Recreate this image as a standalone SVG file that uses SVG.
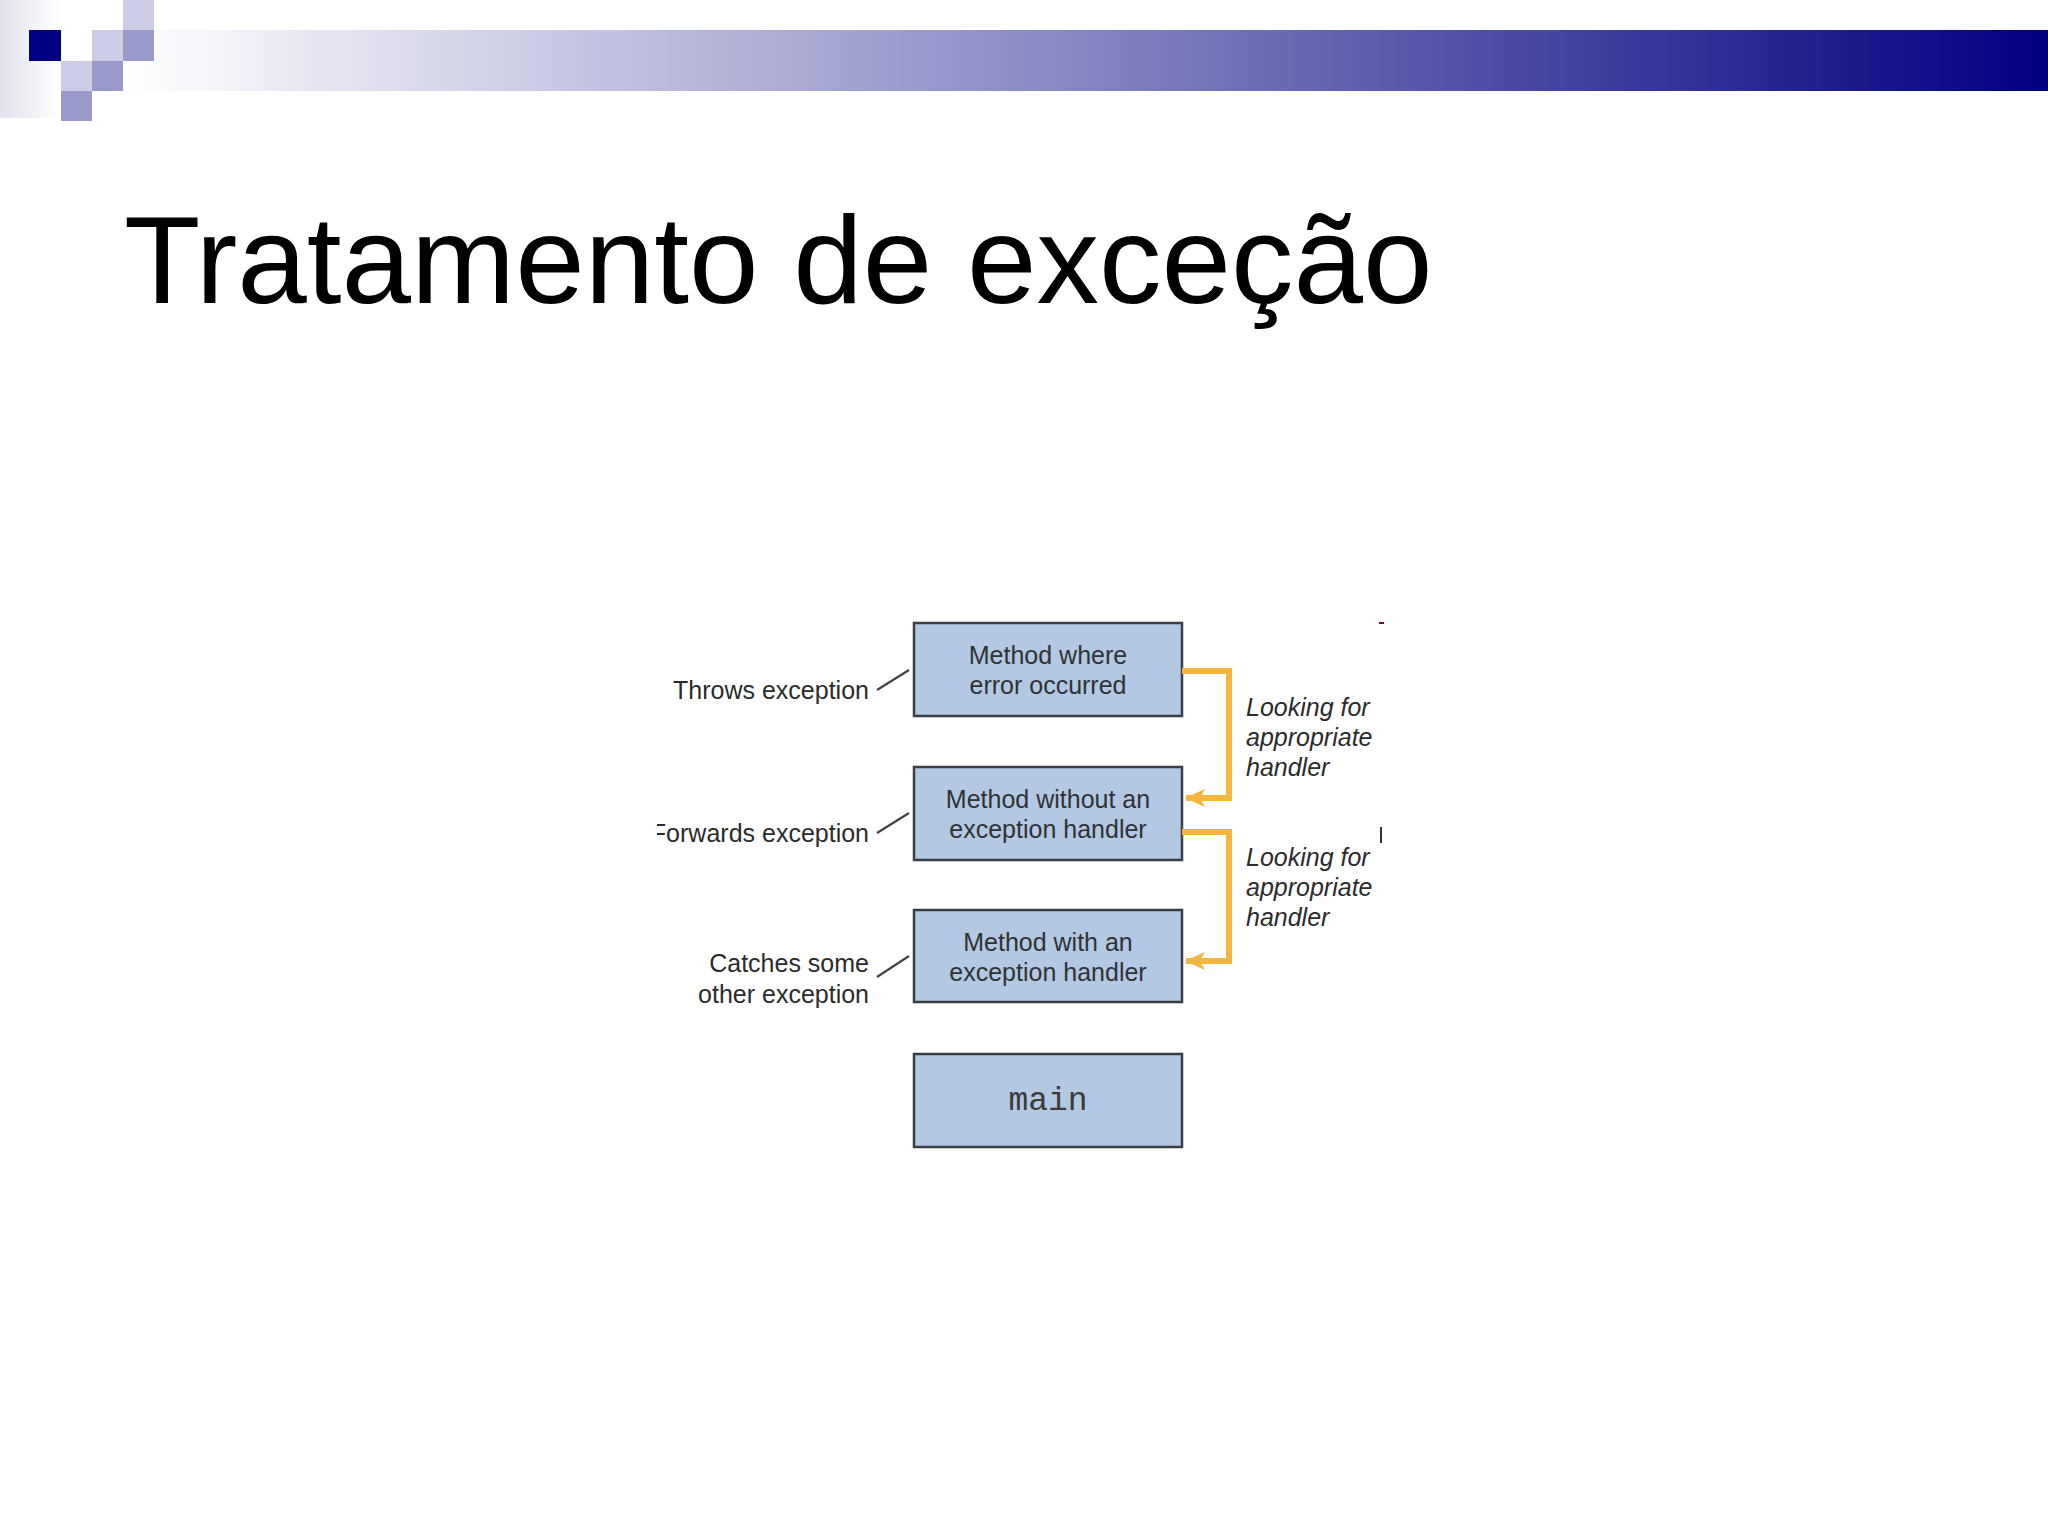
<svg xmlns="http://www.w3.org/2000/svg" width="2048" height="1536" viewBox="0 0 2048 1536">
  <defs>
    <linearGradient id="band" x1="0" y1="0" x2="1" y2="0">
      <stop offset="0" stop-color="#FFFFFF"/>
      <stop offset="0.5" stop-color="#8585C2"/>
      <stop offset="1" stop-color="#000080"/>
    </linearGradient>
    <linearGradient id="leftfade" x1="0" y1="0" x2="1" y2="0">
      <stop offset="0" stop-color="#E2E2EE"/>
      <stop offset="1" stop-color="#FFFFFF"/>
    </linearGradient>
    <marker id="arrow" markerUnits="userSpaceOnUse" markerWidth="20" markerHeight="18" viewBox="0 0 20 18" refX="19" refY="9" orient="auto">
      <path d="M0,0 L20,9 L0,18 L5,9 z" fill="#F4B63F"/>
    </marker>
    <clipPath id="clipF">
      <rect x="657" y="800" width="300" height="60"/>
    </clipPath>
  </defs>
  <style>
    .box { fill: #B3C8E2; stroke: #3A3F45; stroke-width: 2.5; }
    .btxt { font-family: "Liberation Sans", Arial, sans-serif; font-size: 25px; fill: #2E3338; text-anchor: middle; }
    .lbl { font-family: "Liberation Sans", Arial, sans-serif; font-size: 25px; fill: #2B2B2B; text-anchor: end; }
    .look { font-family: "Liberation Sans", Arial, sans-serif; font-size: 25px; font-style: italic; fill: #2B2B2B; }
    .lead { stroke: #444; stroke-width: 2.2; fill: none; }
    .conn { stroke: #F4B63F; stroke-width: 6; fill: none; stroke-linejoin: miter; }
    .lt { fill: #CCCCE6; }
    .md { fill: #9999CC; }
  </style>
  <rect width="2048" height="1536" fill="#FFFFFF"/>

  <g id="header">
    <rect x="0" y="0" width="62" height="118" fill="url(#leftfade)"/>
    <rect x="123" y="30" width="1925" height="61" fill="url(#band)"/>
    <rect class="lt" x="123" y="0" width="31" height="30"/>
    <rect x="29" y="30" width="32" height="31" fill="#000080"/>
    <rect class="lt" x="92" y="30" width="31" height="31"/>
    <rect class="md" x="123" y="30" width="31" height="31"/>
    <rect class="lt" x="61" y="61" width="31" height="30"/>
    <rect class="md" x="92" y="61" width="31" height="30"/>
    <rect class="md" x="61" y="91" width="31" height="30"/>
  </g>

  <text id="title" x="124" y="303" font-family="'Liberation Sans', Arial, sans-serif" font-size="125" fill="#000000">Tratamento de exceção</text>

  <g id="node-error">
    <rect class="box" x="914" y="623" width="268" height="93"/>
    <text class="btxt" x="1048" y="664">Method where</text>
    <text class="btxt" x="1048" y="694">error occurred</text>
  </g>
  <g id="node-without">
    <rect class="box" x="914" y="767" width="268" height="93"/>
    <text class="btxt" x="1048" y="808">Method without an</text>
    <text class="btxt" x="1048" y="838">exception handler</text>
  </g>
  <g id="node-with">
    <rect class="box" x="914" y="910" width="268" height="92"/>
    <text class="btxt" x="1048" y="951">Method with an</text>
    <text class="btxt" x="1048" y="981">exception handler</text>
  </g>
  <g id="node-main">
    <rect class="box" x="914" y="1054" width="268" height="93"/>
    <text x="1048" y="1110" font-family="'Liberation Mono', 'Courier New', monospace" font-size="33" fill="#3A3A3A" text-anchor="middle">main</text>
  </g>

  <g id="labels">
    <text class="lbl" x="869" y="699">Throws exception</text>
    <text class="lbl" x="869" y="842" clip-path="url(#clipF)">Forwards exception</text>
    <text class="lbl" x="869" y="972">Catches some</text>
    <text class="lbl" x="869" y="1003">other exception</text>
    <text class="look" x="1246" y="716">Looking for</text>
    <text class="look" x="1246" y="746">appropriate</text>
    <text class="look" x="1246" y="776">handler</text>
    <text class="look" x="1246" y="866">Looking for</text>
    <text class="look" x="1246" y="896">appropriate</text>
    <text class="look" x="1246" y="926">handler</text>
    <rect x="1379" y="622" width="5" height="2" fill="#6A1030"/>
    <rect x="1380" y="827" width="2" height="16" fill="#333"/>
  </g>

  <g id="connectors">
    <line class="lead" x1="877" y1="690" x2="909" y2="670"/>
    <line class="lead" x1="877" y1="833" x2="909" y2="813"/>
    <line class="lead" x1="877" y1="977" x2="909" y2="956"/>
    <path class="conn" d="M1182,671 H1229 V798 H1186" marker-end="url(#arrow)"/>
    <path class="conn" d="M1182,832 H1229 V961 H1186" marker-end="url(#arrow)"/>
  </g>
</svg>
